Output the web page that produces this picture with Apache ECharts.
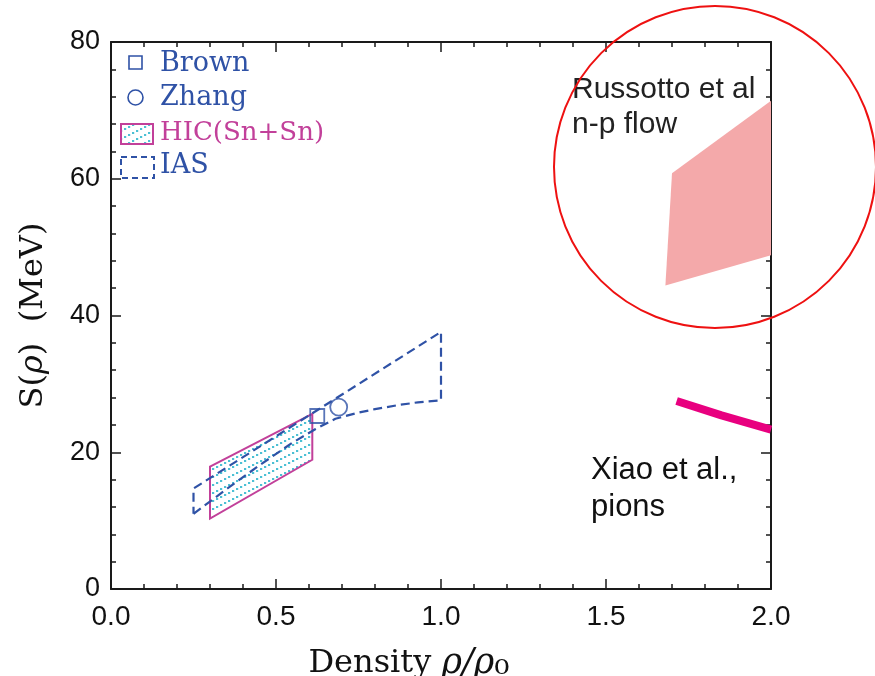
<!DOCTYPE html>
<html><head><meta charset="utf-8">
<script src="https://cdn.jsdelivr.net/npm/echarts@6/dist/echarts.min.js"></script>
<style>html,body{margin:0;padding:0;background:#fff}#c{width:875px;height:676px}</style>
</head><body><div id="c"></div>
<script>
// ---- data (density rho/rho0, S in MeV) ----
const xTickValues = [0.0, 0.5, 1.0, 1.5, 2.0];
const yTickValues = [0, 20, 40, 60, 80];
const brownPoint = [[0.625, 25.3]];
const zhangPoint = [[0.69, 26.6]];
const iasLower = [[0.25, 11.0], [0.35, 14.6], [0.45, 18.1], [0.55, 21.4], [0.62, 23.4], [0.68, 24.9], [0.75, 25.8], [0.80, 26.3], [0.87, 26.9], [0.93, 27.3], [1.0, 27.6]];
const iasUpper = [[1.0, 37.6], [0.25, 14.7]];
const hicPolygon = [[0.30, 17.9], [0.61, 25.6], [0.61, 18.9], [0.30, 10.3]];
const russottoPolygon = [[1.70, 60.8], [2.0, 71.4], [2.0, 48.8], [1.68, 44.4]];
const xiaoLine = [[1.714, 27.5], [1.85, 25.4], [2.0, 23.3]];
const legendNames = ['Brown', 'Zhang', 'HIC(Sn+Sn)', 'IAS'];

// ---- styles ----
const BLUE = '#2f52a6', MAG = '#c2409a', CYAN = '#4cc0d4', PINK = '#f4a9aa', XIAO = '#e8007f', AX = '#1a1a1a';
const SERIF = '"DejaVu Serif", serif', SANS = '"Liberation Sans", Arial, sans-serif';

// hatch pattern (dotted diagonal lines)
const pc = document.createElement('canvas'); pc.width = 16; pc.height = 8;
const g = pc.getContext('2d');
g.fillStyle = CYAN;
for (let t = 1; t < 16; t += 4) { const yy = 7.5 - t / 2; g.fillRect(t - 1, yy - 1, 2.2, 2); }
const hatch = { image: pc, repeat: 'repeat' };

const iasPath = iasLower.concat(iasUpper, [iasLower[0]]);

function polygonSeries(name, pts, style, z) {
  return {
    type: 'custom', name, data: pts, z, silent: true,
    encode: { x: 0, y: 1 },
    renderItem: function (params, api) {
      if (params.dataIndex !== 0) return null;
      return { type: 'polygon', shape: { points: pts.map(p => api.coord(p)) }, style: style };
    }
  };
}

const tickCommon = {
  axisLine: { onZero: false, lineStyle: { color: AX, width: 2 } },
  axisTick: { inside: true, length: 10, lineStyle: { color: AX, width: 1.5 } },
  minorTick: { show: true, splitNumber: 5, length: 5, lineStyle: { color: AX, width: 1.5 } },
  splitLine: { show: false }, minorSplitLine: { show: false }
};

const chart = echarts.init(document.getElementById('c'), null, { renderer: 'canvas' });
chart.setOption({
  animation: false,
  backgroundColor: '#ffffff',
  grid: { left: 111, right: 104, top: 42, bottom: 87, containLabel: false, outerBoundsMode: 'none' },
  xAxis: [
    Object.assign({
      type: 'value', min: xTickValues[0], max: xTickValues[xTickValues.length - 1], interval: 0.5, position: 'bottom',
      axisLabel: { formatter: v => v.toFixed(1), fontFamily: SANS, fontSize: 28, color: '#111', margin: 14 },
      name: '{a|Density }{i|ρ/ρ}{s|₀}', nameLocation: 'middle', nameGap: 56,
      nameTextStyle: { padding: [0, 64, 0, 0], rich: {
        a: { fontFamily: SERIF, fontSize: 32, color: '#111' },
        i: { fontFamily: SERIF, fontSize: 35, fontStyle: 'italic', color: '#111' },
        s: { fontFamily: SERIF, fontSize: 38, color: '#111' } } }
    }, tickCommon),
    Object.assign({
      type: 'value', min: 0, max: 2, interval: 0.5, position: 'top', axisLabel: { show: false }
    }, tickCommon)
  ],
  yAxis: [
    Object.assign({
      type: 'value', min: yTickValues[0], max: yTickValues[yTickValues.length - 1], interval: 20, position: 'left',
      axisLabel: { fontFamily: SANS, fontSize: 27, color: '#111', margin: 11 },
      name: '{a|S(}{i|ρ}{a|)  (MeV)}', nameLocation: 'middle', nameGap: 61,
      nameTextStyle: { rich: {
        a: { fontFamily: SERIF, fontSize: 32, color: '#111' },
        i: { fontFamily: SERIF, fontSize: 32, fontStyle: 'italic', color: '#111' } } }
    }, tickCommon),
    Object.assign({
      type: 'value', min: 0, max: 80, interval: 20, position: 'right', axisLabel: { show: false }
    }, tickCommon)
  ],
  series: [
    polygonSeries('Russotto', russottoPolygon, { fill: PINK, stroke: null }, 1),
    polygonSeries(legendNames[2], hicPolygon, { fill: hatch, stroke: MAG, lineWidth: 2 }, 2),
    {
      type: 'line', name: legendNames[3], data: iasPath, symbol: 'none', z: 3, silent: true,
      lineStyle: { color: BLUE, width: 2.2, type: [9, 5] }
    },
    {
      type: 'line', name: 'Xiao', data: xiaoLine, symbol: 'none', z: 3, silent: true,
      lineStyle: { color: XIAO, width: 8, cap: 'butt' }
    },
    {
      type: 'scatter', name: legendNames[0], data: brownPoint, symbol: 'rect', symbolSize: 14, z: 4,
      itemStyle: { color: 'rgba(0,0,0,0)', borderColor: BLUE, borderWidth: 1.8 }
    },
    {
      type: 'scatter', name: legendNames[1], data: zhangPoint, symbol: 'circle', symbolSize: 17, z: 4,
      itemStyle: { color: 'rgba(0,0,0,0)', borderColor: BLUE, borderWidth: 1.8 }
    }
  ],
  graphic: [
    // legend
    { type: 'rect', shape: { x: 129, y: 56, width: 13, height: 13 }, style: { fill: 'none', stroke: BLUE, lineWidth: 1.6 } },
    { type: 'text', x: 160, y: 64, style: { text: legendNames[0], fontFamily: SERIF, fontSize: 27, fill: BLUE, verticalAlign: 'middle' } },
    { type: 'circle', shape: { cx: 135.5, cy: 97.5, r: 7.5 }, style: { fill: 'none', stroke: BLUE, lineWidth: 1.6 } },
    { type: 'text', x: 160, y: 98, style: { text: legendNames[1], fontFamily: SERIF, fontSize: 27, fill: BLUE, verticalAlign: 'middle' } },
    { type: 'rect', shape: { x: 121, y: 124, width: 32, height: 20 }, style: { fill: hatch, stroke: MAG, lineWidth: 2 } },
    { type: 'text', x: 160, y: 133, style: { text: legendNames[2], fontFamily: SERIF, fontSize: 26, fill: MAG, verticalAlign: 'middle' } },
    { type: 'rect', shape: { x: 121, y: 157, width: 33, height: 21 }, style: { fill: 'none', stroke: BLUE, lineWidth: 2, lineDash: [6, 4] } },
    { type: 'text', x: 160, y: 166, style: { text: legendNames[3], fontFamily: SERIF, fontSize: 27, fill: BLUE, verticalAlign: 'middle' } },
    // annotations
    { type: 'text', x: 572, y: 90, style: { text: 'Russotto et al', fontFamily: SANS, fontSize: 30, fill: '#222', verticalAlign: 'middle' } },
    { type: 'text', x: 572, y: 125, style: { text: 'n-p flow', fontFamily: SANS, fontSize: 30, fill: '#222', verticalAlign: 'middle' } },
    { type: 'text', x: 591, y: 470, style: { text: 'Xiao et al.,', fontFamily: SANS, fontSize: 31, fill: '#111', verticalAlign: 'middle' } },
    { type: 'text', x: 591, y: 507, style: { text: 'pions', fontFamily: SANS, fontSize: 31, fill: '#111', verticalAlign: 'middle' } },
    { type: 'circle', z: 100, shape: { cx: 715, cy: 167, r: 161 }, style: { fill: 'none', stroke: '#ee1111', lineWidth: 2 } }
  ]
});
</script></body></html>
